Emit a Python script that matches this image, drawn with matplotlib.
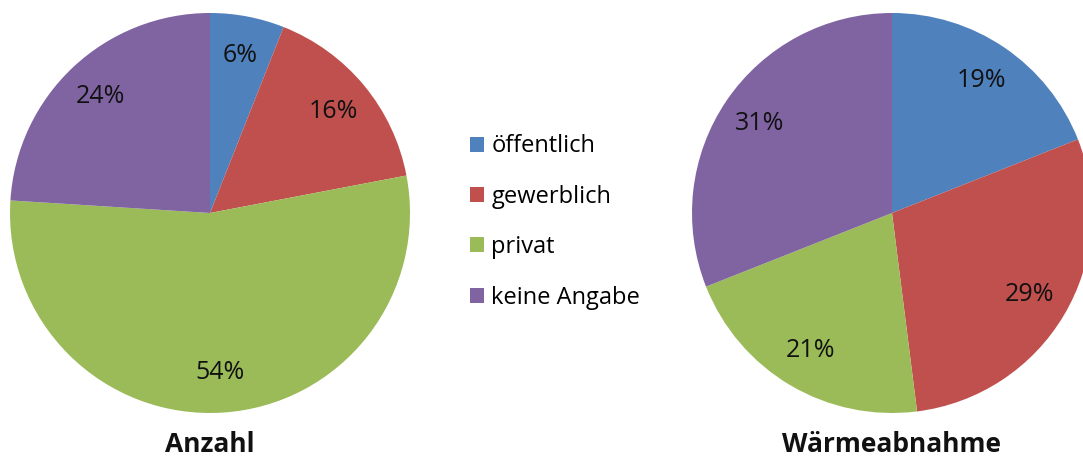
import matplotlib.pyplot as plt
from matplotlib.patches import Patch

plt.rcParams["font.family"] = ["Open Sans", "DejaVu Sans"]

categories = ["öffentlich", "gewerblich", "privat", "keine Angabe"]
anzahl = [6, 16, 54, 24]
waermeabnahme = [19, 29, 21, 31]
colors = ["#4F81BD", "#C0504D", "#9BBB59", "#8064A2"]

W, H = 1083, 463
fig = plt.figure(figsize=(W / 100, H / 100), dpi=100)


def draw_pie(cx, cy, values, title):
    r = 200
    ax = fig.add_axes([(cx - r) / W, (H - cy - r) / H, 2 * r / W, 2 * r / H])
    ax.pie(values, colors=colors, startangle=90, counterclock=False,
           autopct="%.0f%%", pctdistance=0.8,
           wedgeprops=dict(linewidth=0),
           textprops=dict(fontsize=18, color="#111111"))
    ax.set_xlim(-1, 1)
    ax.set_ylim(-1, 1)
    ax.set_aspect("equal")
    ax.axis("off")
    fig.text(cx / W, (H - 445) / H, title, ha="center", va="center",
             fontsize=19, fontweight="bold", color="#111111")


draw_pie(210, 213, anzahl, "Anzahl")
draw_pie(892, 213, waermeabnahme, "Wärmeabnahme")

handles = [Patch(facecolor=c, edgecolor="none") for c in colors]
fig.legend(handles, categories, loc="center left",
           bbox_to_anchor=(470 / W, (H - 222) / H), frameon=False,
           fontsize=17, handlelength=0.6, handleheight=0.6,
           handletextpad=0.3, labelspacing=1.12,
           borderpad=0, borderaxespad=0)

fig.savefig("out.png", dpi=100)
